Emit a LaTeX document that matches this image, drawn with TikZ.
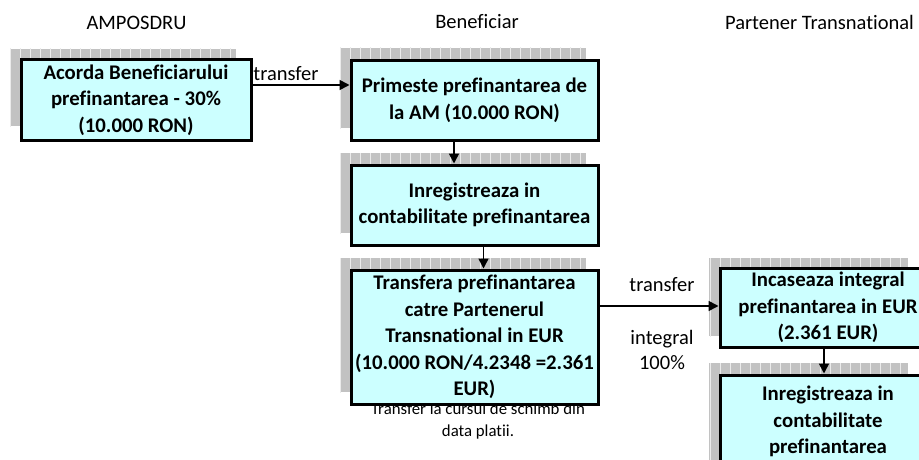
\documentclass[tikz,border=0pt]{standalone}
\usepackage{fontspec}
\setmainfont{Carlito}[Ligatures={NoCommon}]
\usetikzlibrary{arrows.meta,calc}
\definecolor{boxfill}{HTML}{CCFFFF}
\definecolor{shfill}{HTML}{C2C2C2}
\definecolor{shline}{HTML}{EBEBEB}
\tikzset{
  box/.style={draw=black, line width=3pt, fill=boxfill, align=center, inner sep=0pt,
    font=\fontsize{20.8pt}{26.5pt}\selectfont\bfseries},
  hdr/.style={font=\fontsize{20.5pt}{24pt}\selectfont, inner sep=0pt},
  lbl/.style={font=\fontsize{20.5pt}{25pt}\selectfont, inner sep=0pt, align=center},
  captxt/.style={font=\fontsize{16.8pt}{22pt}\selectfont, inner sep=0pt, align=center},
  arr/.style={line width=1.6pt, -{Triangle[length=10pt,width=10pt]}},
}
\newcommand\gridshadow[4]{%
  \begin{scope}
    \clip (#1,#2) rectangle (#3,#4);
    \fill[shfill] (#1,#2) rectangle (#3,#4);
    \draw[shline, line width=1pt, step=10] (#1-10.5,#2-10.5) grid (#3+10,#4+10);
  \end{scope}}
\begin{document}
\begin{tikzpicture}[x=1pt,y=-1pt]
\useasboundingbox (0,0) rectangle (919,460);
\clip (0,0) rectangle (919,460);

% headers
\node[hdr] (h1) at (136.5,22.5) {AMPOSDRU};
\node[hdr] (h2) at (477,22) {Beneficiar};
\node[hdr] (h3) at (819.5,22) {Partener Transnational};

% shadows
\gridshadow{10}{49}{236}{126}
\gridshadow{340}{48}{586}{128}
\gridshadow{340}{153}{586}{233}
\gridshadow{340}{258}{586}{392}
\gridshadow{709}{258}{908}{336}
\gridshadow{709}{363}{908}{470}

% boxes
\node[box, minimum width=230pt, minimum height=80pt] (b1) at (136,100)
  {Acorda Beneficiarului\\prefinantarea - 30\%\\(10.000 RON)};
\node[box, minimum width=247pt, minimum height=79pt] (b2) at (474.5,100.5)
  {Primeste prefinantarea de\\la AM (10.000 RON)};
\node[box, minimum width=247pt, minimum height=80pt] (b3) at (474.5,205)
  {Inregistreaza in\\contabilitate prefinantarea};
\node[captxt] (c4) at (478,421.5)
  {Transfer la cursul de schimb din\\data platii.};
\node[box, minimum width=247pt, minimum height=134pt] (b4) at (474.5,337)
  {Transfera prefinantarea\\catre Partenerul\\Transnational in EUR\\(10.000 RON/4.2348 =2.361\\EUR)};
\node[box, minimum width=216pt, minimum height=79pt] (b5) at (828,307.5)
  {Incaseaza integral\\prefinantarea in EUR\\(2.361 EUR)};
\node[box, minimum width=216pt, minimum height=93pt] (b6) at (828,421.5)
  {Inregistreaza in\\contabilitate\\prefinantarea};

% connectors
\draw[arr] ([yshift=15pt]b1.east) -- ([yshift=15pt]b1.east -| b2.west);
\node[lbl] (l1) at (286,74) {transfer};
\draw[arr] ([xshift=-20.5pt]b2.south) -- ([xshift=-20.5pt]b3.north);
\draw[arr] ([xshift=9pt]b3.south) -- ([xshift=9pt]b4.north);
\draw[arr] ([yshift=31pt]b4.east) -- ([yshift=31pt]b4.east -| b5.west);
\node[lbl] (l2) at (662,285) {transfer};
\node[lbl] (l3) at (662,349.5) {integral\\100\%};
\draw[arr] ([xshift=-4pt]b5.south) -- ([xshift=-4pt]b6.north);
\end{tikzpicture}
\end{document}
